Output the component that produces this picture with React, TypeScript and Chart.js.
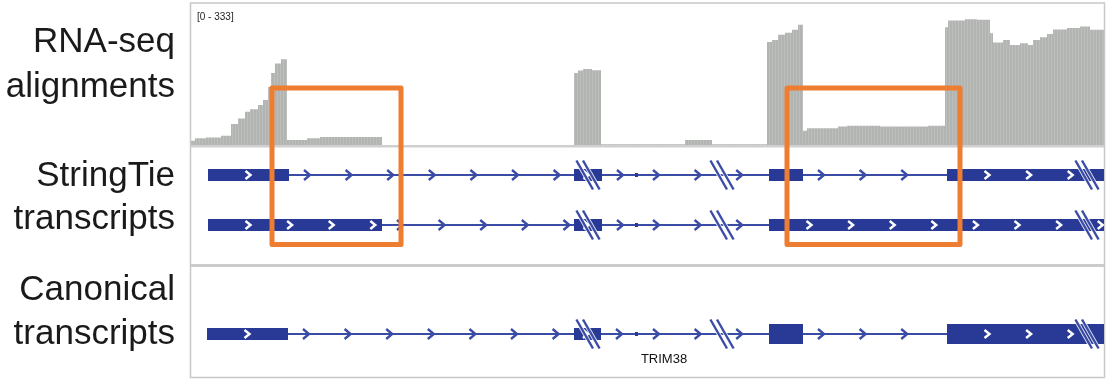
import { useEffect, useRef } from "react";
import { Chart, registerables } from "chart.js";

Chart.register(...registerables);

// Visible window of the (break-compressed) TRIM38 locus, in display units.
const VIEW_START = 0;
const VIEW_END = 913;

// Read depth: each value holds from its start position up to the next one.
const COVERAGE_RANGE_MAX = 333;
const coverageStart = [
  0, 4, 15, 30, 40, 47, 54, 59, 67, 72, 77, 80, 84, 90, 96, 116, 129, 191,
  383, 387, 392, 401, 410, 494, 521, 576, 581, 587, 594, 601, 607, 612, 616,
  647, 656, 689, 737, 754, 757, 774, 786, 799, 802, 812, 819, 829, 837, 842,
  849, 856, 862, 876, 889, 899, 913,
];
const coverageDepth = [
  10, 16, 18, 22, 50, 63, 79, 85, 95, 107, 138, 171, 194, 204, 12, 16, 19, 0,
  171, 177, 181, 178, 2, 12, 2, 245, 250, 262, 267, 274, 286, 34, 40,
  44, 46, 44, 46, 280, 296, 299, 298, 266, 244, 250, 238, 242, 238, 250,
  256, 264, 275, 278, 282, 274, 274,
];

// Assembled transcripts (exon starts / ends).
const stringTieAStart = [17, 383, 578, 756];
const stringTieAEnd = [98, 411, 612, 1010];
const stringTieBStart = [17, 383, 578];
const stringTieBEnd = [191, 411, 1010];

// Reference transcript; exons from the CDS start on are drawn full height.
const canonicalStart = [16, 383, 578, 756];
const canonicalEnd = [97, 410, 612, 1010];
const canonicalCdsStart = 578;

// Tiny exon shared by all models.
const microExonStart = [444];
const microExonEnd = [447];

// Places where the locus is cut (drawn as //).
const breakMarks = [397, 531, 896];

// Regions boxed in orange.
const highlightStart = [81, 596];
const highlightEnd = [210, 769];

const trackTitles = [
  ["RNA-seq", "alignments"],
  ["StringTie", "transcripts"],
  ["Canonical", "transcripts"],
];
const geneName = "TRIM38";
const geneNameAt = 473;

const EXON_BLUE = "#283a96";
const INTRON_BLUE = "#3a4ca6";
const COVERAGE_GREY = "#b2b4b2";
const FRAME_GREY = "#c8c8c8";
const ORANGE = "#ED7D31";

type Exon = { s: number; e: number; h: number };

function chevron(
  ctx: CanvasRenderingContext2D,
  cx: number,
  cy: number,
  halfW: number,
  halfH: number,
  color: string,
) {
  ctx.beginPath();
  ctx.moveTo(cx - halfW, cy - halfH);
  ctx.lineTo(cx + halfW, cy);
  ctx.lineTo(cx - halfW, cy + halfH);
  ctx.strokeStyle = color;
  ctx.lineWidth = 2.4;
  ctx.lineJoin = "miter";
  ctx.stroke();
}

function buildExons(starts: number[], ends: number[], tallFrom: number | null): Exon[] {
  const list: Exon[] = starts.map((s, i) => ({
    s,
    e: ends[i],
    h: tallFrom !== null && s >= tallFrom ? 20 : 12,
  }));
  microExonStart.forEach((s, i) => list.push({ s, e: microExonEnd[i], h: 4 }));
  return list.sort((a, b) => a.s - b.s);
}

function drawTranscript(
  ctx: CanvasRenderingContext2D,
  X: (v: number) => number,
  y: number,
  exons: Exon[],
) {
  const first = exons[0];
  const last = exons[exons.length - 1];

  // backbone
  ctx.beginPath();
  ctx.moveTo(X(first.s), y);
  ctx.lineTo(X(last.e), y);
  ctx.strokeStyle = INTRON_BLUE;
  ctx.lineWidth = 2.2;
  ctx.stroke();

  // exon blocks
  ctx.fillStyle = EXON_BLUE;
  for (const ex of exons) {
    ctx.fillRect(X(ex.s), y - ex.h / 2, X(ex.e) - X(ex.s), ex.h);
  }

  // strand arrows along introns
  const step = 41.6;
  for (let i = 0; i < exons.length - 1; i++) {
    const a = exons[i].e;
    const b = exons[i + 1].s;
    for (let p = a + 18; p < b - 6; p += step) chevron(ctx, X(p), y, 3, 5, INTRON_BLUE);
  }

  // strand arrows inside exons
  for (const ex of exons) {
    if (ex.h < 10) continue;
    let drawn = 0;
    for (let p = ex.s + 40; p < ex.e - 4; p += step) {
      chevron(ctx, X(p), y, 2.5, 4, "#ffffff");
      drawn++;
    }
    // short exons get a single centred arrow
    if (!drawn && ex.e - ex.s < 30) chevron(ctx, X((ex.s + ex.e) / 2 - 2), y, 2.5, 4, "#ffffff");
  }

  // cut marks
  for (const b of breakMarks) {
    const cx = X(b);
    for (const pass of [0, 1]) {
      for (const dx of [-3.3, 3.3]) {
        ctx.beginPath();
        ctx.moveTo(cx + dx - 8.3, y - 14.5);
        ctx.lineTo(cx + dx + 8.3, y + 14.5);
        ctx.strokeStyle = pass === 0 ? "rgba(255,255,255,0.85)" : INTRON_BLUE;
        ctx.lineWidth = pass === 0 ? 4.2 : 2.4;
        ctx.stroke();
      }
    }
  }
}

const trackPlugin = {
  id: "igvTracks",
  beforeDraw(chart: any) {
    const ctx: CanvasRenderingContext2D = chart.ctx;
    ctx.save();
    ctx.fillStyle = "#ffffff";
    ctx.fillRect(0, 0, chart.width, chart.height);
    ctx.restore();
  },
  afterDatasetsDraw(chart: any) {
    const ctx: CanvasRenderingContext2D = chart.ctx;
    const area = chart.chartArea;
    const xs = chart.scales.x;
    const rows = chart.scales.rows;
    const X = (v: number) => xs.getPixelForValue(v);
    const R = (v: number) => rows.getPixelForValue(v);

    ctx.save();

    // faint bar seams in the coverage histogram
    ctx.fillStyle = "rgba(255,255,255,0.15)";
    for (let px = area.left + 2; px < area.right; px += 3) {
      ctx.fillRect(px, area.top, 1, R(0) - area.top);
    }

    // frame and panel separators
    ctx.strokeStyle = FRAME_GREY;
    ctx.lineWidth = 1.5;
    ctx.strokeRect(area.left - 0.5, area.top - 2, area.right - area.left + 1, area.bottom - area.top + 1.5);
    ctx.fillStyle = "#cfcfcf";
    ctx.fillRect(area.left, R(0), area.right - area.left, 2.5);
    ctx.fillStyle = "#cbcbcb";
    ctx.fillRect(area.left, R(119), area.right - area.left, 3);

    // transcript models
    ctx.save();
    ctx.beginPath();
    ctx.rect(area.left, R(0) + 3, area.right - area.left, area.bottom - R(0) - 4);
    ctx.clip();
    drawTranscript(ctx, X, R(30), buildExons(stringTieAStart, stringTieAEnd, null));
    drawTranscript(ctx, X, R(80), buildExons(stringTieBStart, stringTieBEnd, null));
    drawTranscript(ctx, X, R(189), buildExons(canonicalStart, canonicalEnd, canonicalCdsStart));
    ctx.restore();

    // gene name
    ctx.fillStyle = "#111111";
    ctx.font = '13px "Liberation Sans", Arial, sans-serif';
    ctx.textAlign = "center";
    ctx.textBaseline = "alphabetic";
    ctx.fillText(geneName, X(geneNameAt), R(218));

    // data range of the coverage track
    ctx.font = '10px "Liberation Sans", Arial, sans-serif';
    ctx.textAlign = "left";
    ctx.fillStyle = "#222222";
    ctx.fillText(`[0 - ${COVERAGE_RANGE_MAX}]`, area.left + 6, area.top + 15);

    // orange highlight boxes
    ctx.strokeStyle = ORANGE;
    ctx.lineWidth = 5;
    ctx.lineJoin = "round";
    const boxTop = R(0) - 57;
    const boxBottom = R(0) + 99.5;
    highlightStart.forEach((s, i) => {
      ctx.strokeRect(X(s), boxTop, X(highlightEnd[i]) - X(s), boxBottom - boxTop);
    });

    // track titles
    ctx.fillStyle = "#1a1a1a";
    ctx.font = '35px "Liberation Sans", Arial, sans-serif';
    ctx.textAlign = "right";
    const baselines = [
      [52, 97],
      [186, 229],
      [300, 344],
    ];
    trackTitles.forEach((lines, i) => {
      lines.forEach((t, j) => ctx.fillText(t, 175, baselines[i][j]));
    });

    ctx.restore();
  },
};

export default function App() {
  const canvasRef = useRef<HTMLCanvasElement | null>(null);

  useEffect(() => {
    const canvas = canvasRef.current;
    if (!canvas) return;
    const chart = new Chart(canvas, {
      type: "line",
      data: {
        datasets: [
          {
            label: "Coverage",
            data: coverageStart.map((x, i) => ({ x, y: coverageDepth[i] })),
            xAxisID: "x",
            yAxisID: "cov",
            // hold each depth until the next start position
            stepped: "before",
            fill: "origin",
            backgroundColor: COVERAGE_GREY,
            borderColor: COVERAGE_GREY,
            borderWidth: 0,
            pointRadius: 0,
          },
        ],
      },
      options: {
        animation: false,
        responsive: false,
        maintainAspectRatio: false,
        events: [],
        layout: { padding: { left: 191, right: 4, top: 5, bottom: 1 } },
        plugins: {
          legend: { display: false },
          tooltip: { enabled: false },
          title: { display: false },
        },
        scales: {
          x: { type: "linear", min: VIEW_START, max: VIEW_END, display: false },
          cov: {
            type: "linear",
            position: "right",
            stack: "tracks",
            stackWeight: 140,
            min: 0,
            max: COVERAGE_RANGE_MAX,
            display: false,
          },
          rows: {
            type: "linear",
            position: "right",
            stack: "tracks",
            stackWeight: 233,
            min: 0,
            max: 233,
            reverse: true,
            display: false,
          },
        },
      },
      plugins: [trackPlugin as any],
    });
    return () => chart.destroy();
  }, []);

  return (
    <div style={{ position: "absolute", left: 0, top: 0, width: 1108, height: 379 }}>
      <canvas ref={canvasRef} width={1108} height={379} style={{ display: "block" }} />
    </div>
  );
}
